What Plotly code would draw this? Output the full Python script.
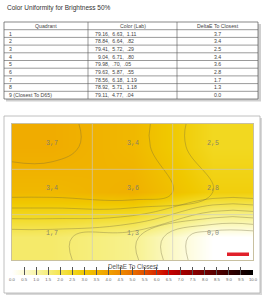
import numpy as np
import plotly.graph_objects as go

# ---------------- data ----------------
title_text = "Color Uniformity for Brightness 50%"
quadrants = ["1", "2", "3", "4", "5", "6", "7", "8", "9 (Closest To D65)"]
lab_values = ["79.16,  6.63,  1.11", "78.84,  6.64,  .82", "79.41,  5.72,  .29",
              "  9.04,  6.71,  .80", "79.98,  .70,  .05", "79.63,  5.87,  .55",
              "78.56,  6.18,  1.19", "78.92,  5.71,  1.18", "79.11,  4.77,  .04"]
delta_e = [3.7, 3.4, 2.5, 3.4, 3.6, 2.8, 1.7, 1.3, 0.0]
col_headers = ["Quadrant", "Color (Lab)", "DeltaE To Closest"]
cbar_title = "DeltaE To Closest"
cbar_ticks = [i * 0.5 for i in range(21)]

W, H = 267, 300
def px_x(v): return v / W
def px_y(v): return 1 - v / H

grid = np.array(delta_e).reshape(3, 3)
ncols, nrows = 3, 3

colorscale = [
    [0.00, "#ffffff"], [0.05, "#fdfbd6"], [0.10, "#f9f5a8"], [0.15, "#f6ee7c"],
    [0.20, "#f4e450"], [0.25, "#f2d820"], [0.30, "#f0c800"], [0.35, "#f0b400"],
    [0.40, "#f0a000"], [0.45, "#ed8a00"], [0.50, "#e87000"], [0.55, "#e05000"],
    [0.60, "#d82800"], [0.65, "#c80000"], [0.70, "#a80000"], [0.80, "#700000"],
    [0.90, "#380000"], [1.00, "#000000"],
]

fig = go.Figure()
shapes = []
font_tbl = dict(family="Liberation Sans", size=5.2, color="#444")

# ---------------- table (drawn from the lists) ----------------
tx0, tx1, ty0 = 4, 258, 22
row_h = 7.7
col_edges = [4, 88, 177, 258]
n_rows_tbl = len(quadrants) + 1
ty1 = ty0 + row_h * n_rows_tbl
shapes.append(dict(type="rect", xref="paper", yref="paper", x0=px_x(tx0 + 2), x1=px_x(tx1 + 3),
                   y0=px_y(ty1 + 2.5), y1=px_y(ty0 + 2), line=dict(width=0), fillcolor="#cfcfcf", layer="below"))
shapes.append(dict(type="rect", xref="paper", yref="paper", x0=px_x(tx0), x1=px_x(tx1),
                   y0=px_y(ty1), y1=px_y(ty0), line=dict(color="#555", width=0.7), fillcolor="white", layer="below"))
for i in range(1, n_rows_tbl):
    yy = ty0 + row_h * i
    shapes.append(dict(type="line", xref="paper", yref="paper", x0=px_x(tx0), x1=px_x(tx1),
                       y0=px_y(yy), y1=px_y(yy), line=dict(color="#555", width=0.6)))
for xe in col_edges[1:-1]:
    shapes.append(dict(type="line", xref="paper", yref="paper", x0=px_x(xe), x1=px_x(xe),
                       y0=px_y(ty0), y1=px_y(ty1), line=dict(color="#555", width=0.6)))
for j, h in enumerate(col_headers):
    fig.add_annotation(x=px_x((col_edges[j] + col_edges[j + 1]) / 2), y=px_y(ty0 + row_h / 2),
                       xref="paper", yref="paper", text=h, showarrow=False, font=font_tbl,
                       xanchor="center", yanchor="middle")
for i in range(len(quadrants)):
    yc = px_y(ty0 + row_h * (i + 1.5))
    fig.add_annotation(x=px_x(col_edges[0] + 3), y=yc, xref="paper", yref="paper", text=quadrants[i],
                       showarrow=False, font=font_tbl, xanchor="left", yanchor="middle")
    fig.add_annotation(x=px_x(col_edges[1] + 5), y=yc, xref="paper", yref="paper",
                       text=lab_values[i].replace(" ", "&nbsp;"),
                       showarrow=False, font=font_tbl, xanchor="left", yanchor="middle")
    fig.add_annotation(x=px_x((col_edges[2] + col_edges[3]) / 2), y=yc, xref="paper", yref="paper",
                       text=f"{delta_e[i]:.1f}", showarrow=False, font=font_tbl,
                       xanchor="center", yanchor="middle")

# ---------------- map ----------------
xs = np.arange(ncols) + 0.5
ys = np.arange(nrows) + 0.5
fig.add_trace(go.Heatmap(
    z=grid, x=xs, y=ys, zmin=0, zmax=10, colorscale=colorscale, zsmooth="best",
    colorbar=dict(orientation="h", x=px_x(12), xanchor="left", len=241 / W, lenmode="fraction",
                  y=px_y(270), yanchor="top", thickness=5, outlinewidth=0,
                  tickmode="array", tickvals=cbar_ticks,
                  ticktext=[f"{t:.1f}" for t in cbar_ticks],
                  ticks="inside", ticklen=8, tickwidth=0.7, tickcolor="#555",
                  tickfont=dict(family="Liberation Sans", size=4.2, color="#666"),
                  ypad=0, xpad=0),
    hoverinfo="skip",
))
# contour lines: grid edge-extended (same clamping as the heatmap rendering) so lines reach the frame
xs_ext = np.concatenate([[0], xs, [ncols]])
ys_ext = np.concatenate([[0], ys, [nrows]])
fig.add_trace(go.Contour(
    z=np.pad(grid, 1, mode="edge"), x=xs_ext, y=ys_ext, showscale=False,
    contours=dict(coloring="none", start=0.4, end=3.6, size=0.4, showlabels=False),
    line=dict(color="rgba(110,100,60,0.5)", width=0.7, smoothing=1.3),
    hoverinfo="skip",
))

fig.add_annotation(x=px_x(132.5), y=px_y(266.5), xref="paper", yref="paper", text=cbar_title,
                   showarrow=False, font=dict(family="Liberation Sans", size=6.3, color="#555"),
                   xanchor="center", yanchor="middle")

for r in range(nrows):
    for c in range(ncols):
        fig.add_annotation(x=xs[c], y=ys[r], xref="x", yref="y", yshift=4,
                           text=f"{grid[r, c]:.1f}".replace(".", ","), showarrow=False,
                           font=dict(family="Liberation Mono", size=6.7, color="rgba(120,120,110,0.9)"))

shapes.append(dict(type="rect", xref="paper", yref="paper", x0=px_x(6), x1=px_x(262),
                   y0=px_y(295), y1=px_y(118), line=dict(width=0), fillcolor="#d8d8d8", layer="below"))
shapes.append(dict(type="rect", xref="paper", yref="paper", x0=px_x(4), x1=px_x(260),
                   y0=px_y(293), y1=px_y(116), line=dict(color="#b0b0b0", width=0.8),
                   fillcolor="white", layer="below"))
for c in range(1, ncols):
    shapes.append(dict(type="line", xref="x", yref="paper", x0=c, x1=c,
                       y0=px_y(260), y1=px_y(124), line=dict(color="rgba(200,200,200,0.8)", width=0.8)))
for r in range(1, nrows):
    shapes.append(dict(type="line", xref="paper", yref="y", x0=px_x(12), x1=px_x(253),
                       y0=r, y1=r, line=dict(color="rgba(200,200,200,0.8)", width=0.8)))
shapes.append(dict(type="rect", xref="paper", yref="paper", x0=px_x(227), x1=px_x(249),
                   y0=px_y(256), y1=px_y(252.5), line=dict(width=0), fillcolor="#e0202a"))
fig.update_layout(shapes=shapes)

fig.add_annotation(x=px_x(5), y=px_y(8), xref="paper", yref="paper", xanchor="left", yanchor="middle",
                   text=title_text, showarrow=False,
                   font=dict(family="Liberation Sans", size=6.5, color="#333"))

fig.update_xaxes(domain=[px_x(12), px_x(253)], range=[0, ncols], showticklabels=False, ticks="",
                 showgrid=False, zeroline=False, showline=True, linecolor="#c8c0a0", linewidth=0.6, mirror=True)
fig.update_yaxes(domain=[px_y(260), px_y(124)], range=[nrows, 0], showticklabels=False, ticks="",
                 showgrid=False, zeroline=False, showline=True, linecolor="#c8c0a0", linewidth=0.6, mirror=True)

fig.update_layout(width=W, height=H, margin=dict(l=0, r=0, t=0, b=0),
                  paper_bgcolor="white", plot_bgcolor="white", showlegend=False)

fig.write_html("out.html")
